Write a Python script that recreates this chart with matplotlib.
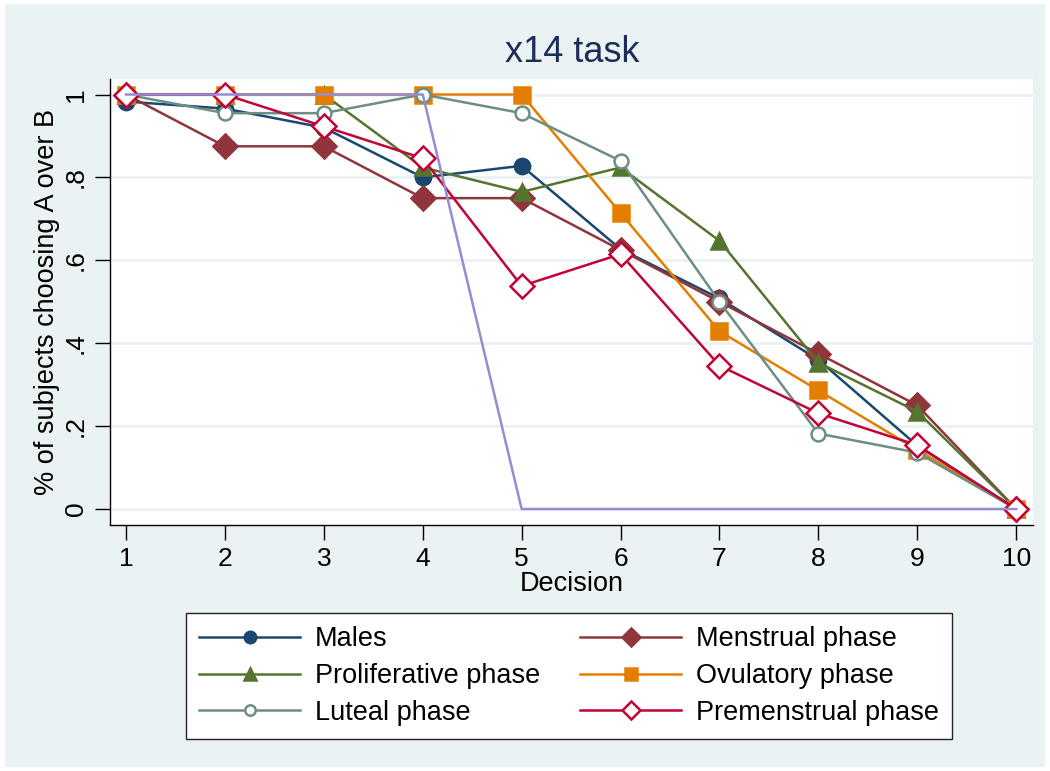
import matplotlib
matplotlib.use("Agg")
import matplotlib.pyplot as plt
from matplotlib.patches import Rectangle

plt.rcParams['font.family'] = ['Liberation Sans', 'DejaVu Sans']

decision = [1, 2, 3, 4, 5, 6, 7, 8, 9, 10]
males = [0.983, 0.966, 0.92, 0.80, 0.828, 0.627, 0.508, 0.36, 0.153, 0.0]
menstrual = [1.0, 0.875, 0.875, 0.75, 0.75, 0.625, 0.5, 0.375, 0.25, 0.0]
proliferative = [1.0, 1.0, 1.0, 0.824, 0.765, 0.824, 0.647, 0.353, 0.235, 0.0]
ovulatory = [1.0, 1.0, 1.0, 1.0, 1.0, 0.714, 0.429, 0.286, 0.143, 0.0]
luteal = [1.0, 0.955, 0.955, 1.0, 0.955, 0.84, 0.5, 0.182, 0.136, 0.0]
premenstrual = [1.0, 1.0, 0.923, 0.846, 0.538, 0.615, 0.346, 0.231, 0.154, 0.0]
other = [1.0, 1.0, 1.0, 1.0, 0.0, 0.0, 0.0, 0.0, 0.0, 0.0]

bg = '#eaf2f3'

fig = plt.figure(figsize=(10.5, 7.71), dpi=100)
fig.patch.set_facecolor('white')
# light outer panel like Stata's s2color
fig.patches.append(Rectangle((5 / 1050, 4 / 771), 1040 / 1050, 763 / 771,
                             transform=fig.transFigure, facecolor=bg,
                             edgecolor='none', zorder=-10))

ax = fig.add_axes([110 / 1050, 1 - 525 / 771, 923 / 1050, 446 / 771])
ax.set_facecolor('white')

lw = 1.8
series = [
    ('Males', males, '#1a476f', 'o', 11, '#1a476f'),
    ('Menstrual phase', menstrual, '#90353b', 'D', 12.5, '#90353b'),
    ('Proliferative phase', proliferative, '#55752f', '^', 12, '#55752f'),
    ('Ovulatory phase', ovulatory, '#e37e00', 's', 11, '#e37e00'),
    ('Luteal phase', luteal, '#6e8e84', 'o', 10, 'white'),
    ('Premenstrual phase', premenstrual, '#c10534', 'D', 12.5, 'white'),
]
handles = {}
for name, vals, col, mk, ms, fc in series:
    h, = ax.plot(decision, vals, color=col, lw=lw, marker=mk, ms=ms,
                 mfc=fc, mec=col, mew=1.8, label=name)
    handles[name] = h
ax.plot(decision, other, color='#938dd2', lw=lw, label='_nolegend_')

ax.set_xlim(0.838, 10.17)
ax.set_ylim(-0.0386, 1.0374)
ax.set_xticks(decision)
ax.set_yticks([0, 0.2, 0.4, 0.6, 0.8, 1.0])
ax.set_yticklabels(['0', '.2', '.4', '.6', '.8', '1'], rotation=90, va='center')
ax.tick_params(axis='both', labelsize=19, length=11, width=1, color='black', pad=5)
ax.grid(axis='y', color=bg, lw=2)
ax.set_axisbelow(True)
for s in ['top', 'right']:
    ax.spines[s].set_visible(False)
for s in ['left', 'bottom']:
    ax.spines[s].set_linewidth(1)

ax.set_xlabel('Decision', fontsize=19.5, labelpad=0)
ax.set_ylabel('% of subjects choosing A over B', fontsize=19.5, labelpad=3)
fig.text(0.545, 1 - 53 / 771, 'x14 task', fontsize=26, color='#1c2d59',
         ha='center', va='center')

order = ['Males', 'Proliferative phase', 'Luteal phase',
         'Menstrual phase', 'Ovulatory phase', 'Premenstrual phase']
leg = fig.legend([handles[n] for n in order], order, ncol=2,
                 loc='center', bbox_to_anchor=(569 / 1050, 1 - 676 / 771),
                 fontsize=19.5, frameon=True, fancybox=False, edgecolor='#222222',
                 framealpha=1, facecolor='white',
                 markerscale=0.75, handlelength=3.7, columnspacing=1.5,
                 labelspacing=0.4, borderpad=0.5, handletextpad=0.55)
leg.get_frame().set_linewidth(1)

fig.savefig('out.png', dpi=100, facecolor=fig.get_facecolor())
